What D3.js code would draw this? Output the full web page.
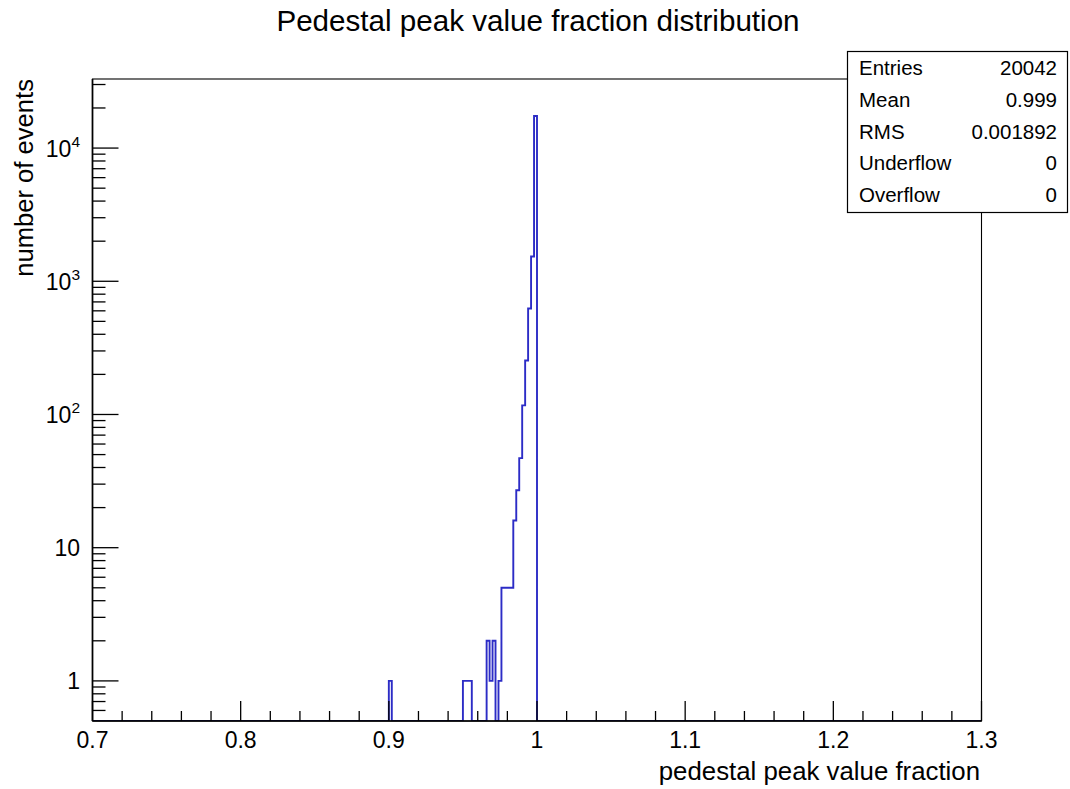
<!DOCTYPE html>
<html>
<head>
<meta charset="utf-8">
<script src="https://cdn.jsdelivr.net/npm/d3@7"></script>
<style>
  html, body { margin: 0; padding: 0; background: #fff; }
  svg { display: block; }
  text { font-family: "Liberation Sans", Arial, Helvetica, sans-serif; fill: #000; }
</style>
</head>
<body>
<svg id="chart" width="1070" height="789"></svg>
<script>
// Histogram: pedestal peak value fraction, 0.002-wide bins on [0.7, 1.3]
const histRange = [0.7, 1.3];
const binWidth = 0.002;

// lower edges of the filled bins and their contents
const binLow = [0.900, 0.950, 0.952, 0.954, 0.966, 0.968, 0.970, 0.974,
                0.976, 0.978, 0.980, 0.982, 0.984, 0.986, 0.988, 0.990,
                0.992, 0.994, 0.996, 0.998];
const binCount = [1, 1, 1, 1, 2, 1, 2, 1,
                  5, 5, 5, 5, 16, 27, 47, 117,
                  254, 625, 1535, 17391];

// axis tick labels
const xTickValues = [0.7, 0.8, 0.9, 1.0, 1.1, 1.2, 1.3];
const xTickLabels = ["0.7", "0.8", "0.9", "1", "1.1", "1.2", "1.3"];
const yTickValues = [1, 10, 100, 1000, 10000];
const yTickBase = ["1", "10", "10", "10", "10"];
const yTickExp = ["", "", "2", "3", "4"];

// statistics box
const statNames = ["Entries", "Mean", "RMS", "Underflow", "Overflow"];
const statValues = ["20042", "0.999", "0.001892", "0", "0"];

const svg = d3.select("#chart");
const frame = { left: 92.5, right: 981.5, top: 79, bottom: 721 };

const x = d3.scaleLinear().domain(histRange).range([frame.left, frame.right]);
const y = d3.scaleLog().domain([0.5, 3.3e4]).range([frame.bottom, frame.top]);

// title
svg.append("text")
  .attr("x", 538).attr("y", 31)
  .attr("text-anchor", "middle")
  .style("font-size", "29.6px")
  .text("Pedestal peak value fraction distribution");

// clip region for the histogram outline
svg.append("clipPath").attr("id", "frameClip")
  .append("rect")
  .attr("x", frame.left).attr("y", frame.top)
  .attr("width", frame.right - frame.left)
  .attr("height", frame.bottom - frame.top);

// step outline of the histogram; empty bins sit on the lower edge
const base = y.domain()[0];
const pts = [[histRange[0], base]];
let prevEnd = histRange[0];
binLow.forEach((lo, i) => {
  const hi = +(lo + binWidth).toFixed(4);
  if (Math.abs(lo - prevEnd) > 1e-9) {
    pts.push([prevEnd, base]);
    pts.push([lo, base]);
  }
  pts.push([lo, binCount[i]]);
  pts.push([hi, binCount[i]]);
  prevEnd = hi;
});
pts.push([prevEnd, base]);
pts.push([histRange[1], base]);

const line = d3.line().x(d => x(d[0])).y(d => y(d[1]));
svg.append("path")
  .attr("clip-path", "url(#frameClip)")
  .attr("d", line(pts))
  .attr("fill", "none")
  .attr("stroke", "#2c2cc6")
  .attr("stroke-width", 1.9)
  .attr("stroke-linejoin", "miter");

// frame (top and right)
svg.append("rect")
  .attr("x", frame.left).attr("y", frame.top)
  .attr("width", frame.right - frame.left)
  .attr("height", frame.bottom - frame.top)
  .attr("fill", "none")
  .attr("stroke", "#000")
  .attr("stroke-width", 1.1);

// axis lines
const ga = svg.append("g").attr("stroke", "#000").attr("stroke-width", 1.7);
ga.append("line").attr("x1", frame.left).attr("x2", frame.right)
  .attr("y1", frame.bottom).attr("y2", frame.bottom);
ga.append("line").attr("x1", frame.left).attr("x2", frame.left)
  .attr("y1", frame.top).attr("y2", frame.bottom);

// x axis ticks
const xMajorLen = 20, xMinorLen = 10;
const xMinor = d3.range(0, 31).map(i => histRange[0] + i * 0.02);
const gx = svg.append("g").attr("stroke", "#000").attr("stroke-width", 1.3);
xMinor.forEach((v, i) => {
  const len = (i % 5 === 0) ? xMajorLen : xMinorLen;
  gx.append("line")
    .attr("x1", x(v)).attr("x2", x(v))
    .attr("y1", frame.bottom).attr("y2", frame.bottom - len);
});
svg.append("g").selectAll("text")
  .data(xTickValues)
  .join("text")
  .attr("x", d => x(d))
  .attr("y", 748)
  .attr("text-anchor", "middle")
  .style("font-size", "23px")
  .text((d, i) => xTickLabels[i]);

// y axis ticks (log)
const yMajorLen = 26, yMinorLen = 13;
const gy = svg.append("g").attr("stroke", "#000").attr("stroke-width", 1.3);
const yMinor = [];
[0.1, 1, 10, 100, 1000, 10000].forEach(dec => {
  for (let m = 2; m <= 9; m++) {
    const v = m * dec;
    if (v > y.domain()[0] && v < y.domain()[1]) yMinor.push(v);
  }
});
yMinor.forEach(v => {
  gy.append("line")
    .attr("x1", frame.left).attr("x2", frame.left + yMinorLen)
    .attr("y1", y(v)).attr("y2", y(v));
});
yTickValues.forEach(v => {
  gy.append("line")
    .attr("x1", frame.left).attr("x2", frame.left + yMajorLen)
    .attr("y1", y(v)).attr("y2", y(v));
});
yTickValues.forEach((v, i) => {
  const t = svg.append("text")
    .attr("x", 80)
    .attr("y", y(v) + 8.5)
    .attr("text-anchor", "end")
    .style("font-size", "23px");
  t.append("tspan").text(yTickBase[i]);
  if (yTickExp[i]) {
    t.append("tspan")
      .attr("dy", -10)
      .style("font-size", "15.5px")
      .text(yTickExp[i]);
  }
});

// axis titles
svg.append("text")
  .attr("x", 980).attr("y", 780)
  .attr("text-anchor", "end")
  .style("font-size", "25.8px")
  .text("pedestal peak value fraction");

svg.append("text")
  .attr("transform", "translate(33,79) rotate(-90)")
  .attr("text-anchor", "end")
  .style("font-size", "25.6px")
  .text("number of events");

// statistics box
const box = { x: 847.5, y: 51.5, w: 220, h: 161 };
svg.append("rect")
  .attr("x", box.x).attr("y", box.y)
  .attr("width", box.w).attr("height", box.h)
  .attr("fill", "#fff")
  .attr("stroke", "#000")
  .attr("stroke-width", 1.2);
const gs = svg.append("g");
statNames.forEach((name, i) => {
  const by = 75 + i * 31.8;
  gs.append("text")
    .attr("x", 859).attr("y", by)
    .style("font-size", "20.5px")
    .text(name);
  gs.append("text")
    .attr("x", 1057).attr("y", by)
    .attr("text-anchor", "end")
    .style("font-size", "20.5px")
    .text(statValues[i]);
});
</script>
</body>
</html>
